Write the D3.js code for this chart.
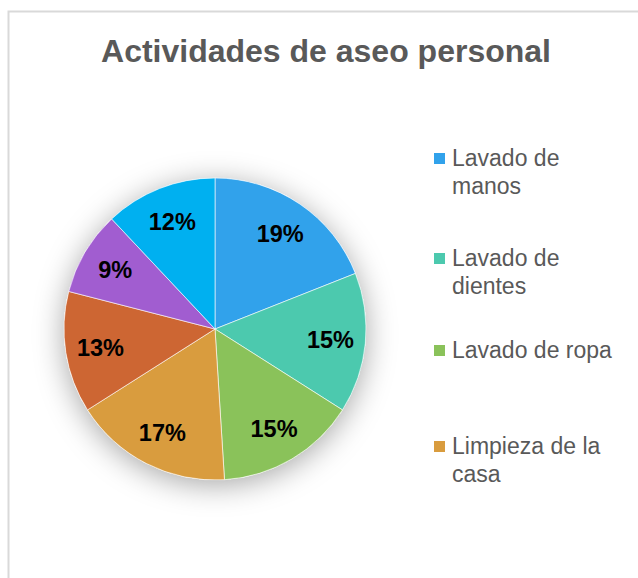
<!DOCTYPE html>
<html>
<head>
<meta charset="utf-8">
<script src="https://cdn.jsdelivr.net/npm/d3@7"></script>
<style>
  body { margin: 0; background: #fff; }
  svg { display: block; font-family: "Liberation Sans", Arial, sans-serif; }
</style>
</head>
<body>
<div id="container"></div>
<script>
// datos del grafico
var categorias = ["Lavado de manos", "Lavado de dientes", "Lavado de ropa", "Limpieza de la casa",
                  "Baño diario", "Corte de uñas", "Lavado de cabello"];
var valores = [19, 15, 15, 17, 13, 9, 12];
var colores = ["#31a2eb", "#4cc9ae", "#8ac25a", "#d99c3e", "#cd6633", "#a15dd0", "#00b0f0"];
// solo caben 4 entradas en la leyenda
var leyenda = [["Lavado de", "manos"], ["Lavado de", "dientes"], ["Lavado de ropa"], ["Limpieza de la", "casa"]];

var w = 638;
var h = 578;

var svg = d3.select("div#container")
            .append("svg")
            .attr("width", w)
            .attr("height", h);

// marco del area del grafico (solo se ve arriba e izquierda)
svg.append("rect")
    .attr("x", 8.5).attr("y", 11.5)
    .attr("width", w + 20).attr("height", h + 20)
    .attr("fill", "white")
    .attr("stroke", "#d9d9d9")
    .attr("stroke-width", 2);

svg.append("text")
    .attr("x", 326)
    .attr("y", 62)
    .attr("text-anchor", "middle")
    .attr("font-size", 32)
    .attr("font-weight", "bold")
    .attr("fill", "#595959")
    .text("Actividades de aseo personal");

// sombra
var defs = svg.append("defs");
var filtro = defs.append("filter").attr("id", "sombra")
    .attr("x", "-40%").attr("y", "-40%").attr("width", "180%").attr("height", "180%");
filtro.append("feDropShadow")
    .attr("dx", 0).attr("dy", 5)
    .attr("stdDeviation", 15)
    .attr("flood-color", "#000")
    .attr("flood-opacity", 0.35);

var cx = 215, cy = 329, r = 151;

var pie = d3.pie().sort(null).value(function(d) { return d; });
var arc = d3.arc().innerRadius(0).outerRadius(r);
var arcLabel = d3.arc().innerRadius(116).outerRadius(116);
var arcs = pie(valores);
var total = d3.sum(valores);

var g = svg.append("g").attr("transform", "translate(" + cx + "," + cy + ")");

g.append("circle").attr("r", r).attr("fill", "#fff").attr("filter", "url(#sombra)");

g.selectAll("path")
    .data(arcs)
    .enter()
    .append("path")
    .attr("d", arc)
    .attr("fill", function(d, i) { return colores[i]; })
    .attr("stroke", "#fff")
    .attr("stroke-width", 0.6)
    .append("title")
    .text(function(d, i) { return categorias[i] + ": " + d.data + "%"; });

g.selectAll("text.etiqueta")
    .data(arcs)
    .enter()
    .append("text")
    .attr("class", "etiqueta")
    .attr("transform", function(d) { return "translate(" + arcLabel.centroid(d) + ")"; })
    .attr("text-anchor", "middle")
    .attr("dy", "0.36em")
    .attr("font-size", 23.5)
    .attr("font-weight", "bold")
    .attr("fill", "#000")
    .text(function(d) { return Math.round(d.data / total * 100) + "%"; });

// leyenda
var posY = [158, 258, 350, 446];
var ley = svg.append("g");
leyenda.forEach(function(lineas, i) {
    ley.append("rect")
        .attr("x", 434).attr("y", posY[i] - 5)
        .attr("width", 11).attr("height", 11)
        .attr("fill", colores[i]);
    var t = ley.append("text")
        .attr("x", 452)
        .attr("y", posY[i] + 8)
        .attr("font-size", 23)
        .attr("fill", "#595959");
    lineas.forEach(function(l, j) {
        t.append("tspan").attr("x", 452).attr("dy", j == 0 ? 0 : 28).text(l);
    });
});
</script>
</body>
</html>
